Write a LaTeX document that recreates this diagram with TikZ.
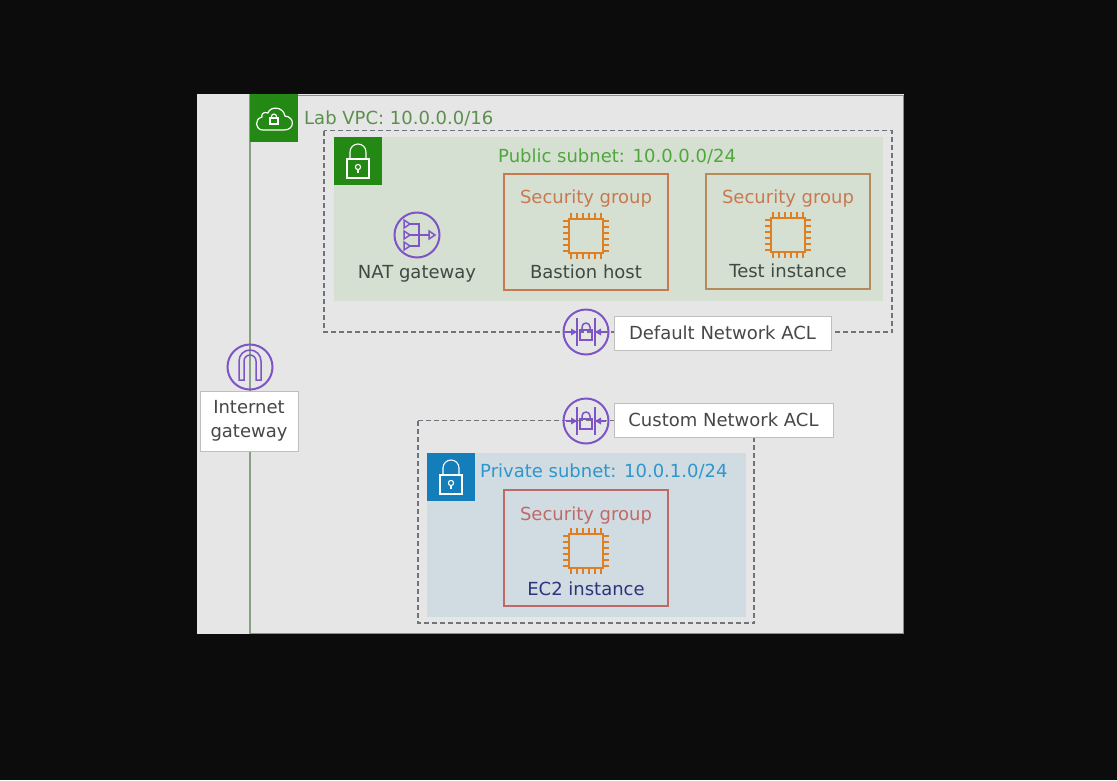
\documentclass[tikz,border=0pt]{standalone}
\usepackage{fontspec}
\setmainfont{DejaVu Sans}
\definecolor{bgk}{HTML}{0C0C0C}
\definecolor{panel}{HTML}{E6E6E6}
\definecolor{awsgreen}{HTML}{248814}
\definecolor{vpcline}{HTML}{6BA85C}
\definecolor{leftline}{HTML}{88A184}
\definecolor{pubfill}{HTML}{D5DFD2}
\definecolor{privfill}{HTML}{D0DBE2}
\definecolor{awsblue}{HTML}{147EBA}
\definecolor{pubtext}{HTML}{4EA83C}
\definecolor{privtext}{HTML}{2E96CC}
\definecolor{sgorange}{HTML}{C8794F}
\definecolor{sgolive}{HTML}{B58B5C}
\definecolor{sgred}{HTML}{BF6A66}
\definecolor{chip}{HTML}{DD7F22}
\definecolor{purple}{HTML}{7D55C7}
\definecolor{dashc}{HTML}{70747A}
\definecolor{lbl}{HTML}{3F4A42}
\tikzset{
 x=1pt,y=-1pt,
 txt/.style={font=\fontsize{18}{24}\selectfont,inner sep=0pt},
 whitebox/.style={draw=black!25,line width=1pt,fill=white,txt,text=black!72,align=center,anchor=center},
 sgbox/.style={line width=1.7pt},
 dashbox/.style={draw=dashc,line width=1.4pt,dash pattern=on 5pt off 3pt},
 ic/.style={draw=purple,line width=1.5pt},
 squareicon/.style={minimum size=48pt,inner sep=0pt,draw=none},
 circleicon/.style={circle,draw=purple,line width=2pt,minimum size=45pt,inner sep=0pt},
 lock/.pic={
  \draw[white,line width=1.1pt] (-11,-2) rectangle (11,17);
  \draw[white,line width=1.1pt] (-8,-2) -- (-8,-9) arc[start angle=180,end angle=0,x radius=8,y radius=-8] -- (8,-2);
  \draw[white,line width=1.1pt] (0,6) circle (2.6);
  \draw[white,line width=1.1pt] (0,8.6) -- (0,12);
 },
 chipicon/.pic={
  \draw[chip,line width=1.7pt] (-17,-17) rectangle (17,17);
  \foreach \o in {-15,-9,-3,3,9,15}{
   \draw[chip,line width=1.2pt] (\o,-17) -- (\o,-23) (\o,17) -- (\o,23) (-17,\o) -- (-23,\o) (17,\o) -- (23,\o);
  }
 },
 aclicon/.pic={
  \draw[ic] (-9,-14) -- (-9,14) (9,-14) -- (9,14);
  \draw[ic] (-20,0) -- (-10,0) (10,0) -- (20,0);
  \fill[purple] (-9,0) -- (-15,-3.5) -- (-15,3.5) -- cycle;
  \fill[purple] (9,0) -- (15,-3.5) -- (15,3.5) -- cycle;
  \draw[ic] (-6,-2) rectangle (6,8);
  \draw[ic] (-4,-2) -- (-4,-5) arc[start angle=180,end angle=0,x radius=4,y radius=-4] -- (4,-2);
 },
}
\begin{document}
\begin{tikzpicture}
\useasboundingbox (0,0) rectangle (1117,780);
\fill[bgk] (0,0) rectangle (1117,780);
\fill[panel] (197,94) rectangle (904,634);
% VPC
\draw[vpcline,line width=1.5pt] (250,95.5) -- (903.5,95.5) -- (903.5,633.5) -- (250,633.5);
\draw[leftline,line width=2.2pt] (250,94) -- (250,634);
\node[squareicon,fill=awsgreen] (vpcicon) at (274,118) {};
\begin{scope}[shift={(vpcicon.center)}]
 \draw[white,line width=1.2pt] (-11,12) -- (10,12) .. controls (21,12) and (21,-1) .. (11,-2) .. controls (9,-12) and (-4,-12) .. (-6,-5) .. controls (-11,-7) and (-13,-3) .. (-12,-1) .. controls (-20,1) and (-19,12) .. (-11,12) -- cycle;
 \draw[white,line width=1.1pt] (-4,0) rectangle (4,6);
 \draw[white,line width=1.1pt] (-2.5,0) -- (-2.5,-1.5) arc[start angle=180,end angle=0,x radius=2.5,y radius=-2.5] -- (2.5,0);
\end{scope}
\node[txt,anchor=base west,text=vpcline!85!black] (vpclabel) at (304,124) {Lab VPC: 10.0.0.0/16};
% public subnet
\fill[pubfill] (334,137) rectangle (883,301);
\draw[dashbox] (324,130.5) rectangle (892,332);
\node[squareicon,fill=awsgreen] (pubicon) at (358,161) {};
\pic at (pubicon.center) {lock};
\node[txt,anchor=base west,text=pubtext] (publabel) at (498,162) {Public subnet: 10.0.0.0/24};
% NAT
\node[circleicon] (nat) at (417,235) {};
\begin{scope}[shift={(nat.center)}]
 \draw[ic] (-8,-11) -- (2,-11) -- (2,11) -- (-8,11) (-8,0) -- (12,0);
 \draw[ic] (-13,-15) -- (-7,-11) -- (-13,-7) -- cycle (-13,-4) -- (-7,0) -- (-13,4) -- cycle (-13,7) -- (-7,11) -- (-13,15) -- cycle;
 \draw[ic] (12,-4) -- (18,0) -- (12,4) -- cycle;
\end{scope}
\node[txt,text=lbl,anchor=base] (natlabel) at (417,278) {NAT gateway};
% security groups
\node[sgbox,draw=sgorange,minimum width=164pt,minimum height=116pt,inner sep=0pt] (sg1) at (586,232) {};
\node[txt,anchor=base,text=sgorange] (sg1t) at (586,203.5) {Security group};
\pic at (586,236) {chipicon};
\node[txt,anchor=base,text=lbl] (sg1b) at (586,278) {Bastion host};
\node[sgbox,draw=sgolive,minimum width=164pt,minimum height=115pt,inner sep=0pt] (sg2) at (788,231.5) {};
\node[txt,anchor=base,text=sgorange] (sg2t) at (788,203) {Security group};
\pic at (788,235) {chipicon};
\node[txt,anchor=base,text=lbl] (sg2b) at (788,277.5) {Test instance};
% private subnet
\fill[privfill] (427,453) rectangle (746,617);
\draw[dashbox] (418,420.5) rectangle (754,623);
\node[squareicon,fill=awsblue] (privicon) at (451,477) {};
\pic at (privicon.center) {lock};
\node[txt,anchor=base west,text=privtext] (privlabel) at (480,477) {Private subnet: 10.0.1.0/24};
\node[sgbox,draw=sgred,minimum width=164pt,minimum height=116pt,inner sep=0pt] (sg3) at (586,548) {};
\node[txt,anchor=base,text=sgred] (sg3t) at (586,520) {Security group};
\pic at (586,551) {chipicon};
\node[txt,anchor=base,text=lbl!70!blue] (sg3b) at (586,595) {EC2 instance};
% ACLs
\node[whitebox,minimum width=217pt,minimum height=34pt] (acl1l) at (722.5,333) {Default Network ACL};
\node[circleicon] (acl1) at (586,332) {};
\pic at (acl1.center) {aclicon};
\node[whitebox,minimum width=219pt,minimum height=34pt] (acl2l) at (723.5,420) {Custom Network ACL};
\node[circleicon] (acl2) at (586,421) {};
\pic at (acl2.center) {aclicon};
% Internet gateway
\node[whitebox,minimum width=98pt,minimum height=60pt] (igwl) at (249,421) {Internet\\gateway};
\node[circleicon] (igw) at (250,367) {};
\begin{scope}[shift={(igw.center)}]
 \draw[ic] (-11,13) -- (-11,-6) arc[start angle=180,end angle=0,x radius=11,y radius=-11] -- (11,13) -- (6,13) -- (6,-6) arc[start angle=0,end angle=180,x radius=6,y radius=-6] -- (-6,13) -- cycle;
\end{scope}
\end{tikzpicture}
\end{document}
